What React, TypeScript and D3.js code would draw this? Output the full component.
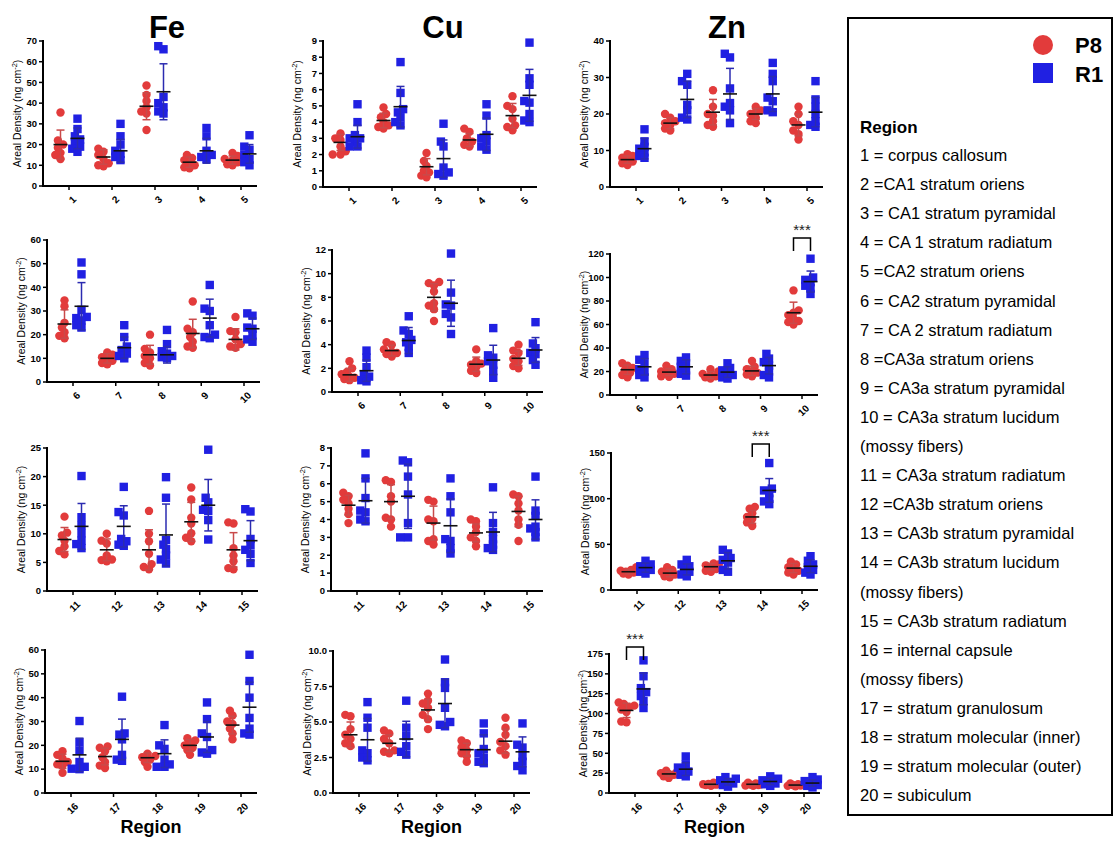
import * as d3 from 'd3';

const FONT = '"Liberation Sans", Arial, Helvetica, sans-serif';
const RED = '#e23b3b';
const BLUE = '#2020e2';
const RED_BAR = '#c94a4a';
const BLUE_BAR = '#2b2bb0';

const elements = ['Fe', 'Cu', 'Zn'];
const regionRows = [
  ['1', '2', '3', '4', '5'],
  ['6', '7', '8', '9', '10'],
  ['11', '12', '13', '14', '15'],
  ['16', '17', '18', '19', '20'],
];

// y axis extents per row
const feYMax = [70, 60, 25, 60];
const feYStep = [10, 10, 5, 10];
const cuYMax = [9, 12, 8, 10];
const cuYStep = [1, 2, 1, 2.5];
const znYMax = [40, 120, 150, 175];
const znYStep = [10, 20, 50, 25];
const znSig = [null, '10', '14', '16'];

// ---- Fe ----
const fe1_p8 = [[35.5, 22, 20, 18.5, 16, 15, 13], [18, 16.5, 15, 13, 11, 9.5, 10], [48.5, 44, 41, 38, 36, 35, 27], [15, 13.5, 12.5, 11, 10, 9, 8.5], [16, 14.5, 13, 12.5, 11.5, 10.5, 10]];
const fe1_p8_mean = [20, 14, 38.5, 11.5, 12.5];
const fe1_p8_sd = [7, 3.5, 6.5, 2.5, 2];
const fe1_r1 = [[32.5, 27.5, 24, 22.5, 21, 18, 16.5, 19], [30, 24, 20, 17, 15.5, 14, 12.5], [66, 67.5, 43, 40, 38, 36, 35], [28, 24, 17, 15, 14, 13], [24.5, 19, 17.5, 15, 13, 11.5, 10]];
const fe1_r1_mean = [23, 17, 45.5, 17, 15.5];
const fe1_r1_sd = [5, 5.5, 13.5, 6, 4.5];

const fe2_p8 = [[34.5, 32, 25, 23, 21, 19.5, 18.5], [12.5, 11.5, 10.5, 10, 9, 8, 7.5], [20, 14, 12.5, 11, 10, 8, 7], [34, 22.5, 21, 19, 17, 15, 14.5], [27.5, 21.5, 21, 18, 16, 14.5, 15]];
const fe2_p8_mean = [24.5, 10, 11.5, 20.5, 18];
const fe2_p8_sd = [6, 2, 4, 6, 4.5];
const fe2_r1 = [[50.5, 45.5, 30.5, 27.5, 27, 26, 24, 23], [24, 19, 15, 13.5, 12, 11, 10], [22, 16, 13, 12, 11, 10.5, 10], [41, 31, 30, 24, 20, 19, 18.5], [29, 28, 23, 22.5, 20, 18, 17]];
const fe2_r1_mean = [32, 14.5, 11.5, 27, 22.5];
const fe2_r1_sd = [10, 4.5, 3.5, 8, 4.5];

const fe3_p8 = [[13, 10.2, 9.7, 8.8, 7.8, 7, 6.4], [10, 8.8, 8.3, 6.2, 5.4, 5.2, 5.5], [14, 10, 8.7, 6.5, 4.7, 4.2, 3.8], [18.1, 16, 12.8, 11.8, 10.1, 9.3, 8.7], [12, 11.8, 7.5, 6.2, 5.2, 4, 3.8]];
const fe3_p8_mean = [9, 7.2, 7.2, 12.1, 7.2];
const fe3_p8_sd = [2.1, 1.9, 3.5, 3.4, 3];
const fe3_r1 = [[20.1, 12.9, 11.5, 10.1, 8.8, 8.2, 7.5], [18.2, 13.8, 13.2, 9.1, 8.7, 8.1, 7.9], [19.9, 16.3, 8.9, 8.1, 7.3, 6.2, 5.5, 4.8], [24.7, 16.3, 15.5, 14.2, 14, 12.4, 9], [14.3, 13.9, 9.1, 8, 7.2, 6.5, 4.9]];
const fe3_r1_mean = [11.3, 11.3, 9.8, 15, 8.8];
const fe3_r1_sd = [4, 3.6, 5.4, 4.5, 3.5];

const fe4_p8 = [[17.5, 16, 14.5, 13, 12, 11.5, 8.5], [19.5, 19, 17.5, 15, 13, 11.5, 10.5], [16.5, 15.5, 15, 14, 13, 11], [23, 22, 21, 20, 19, 18, 16], [34.5, 32.5, 30, 29, 27, 25, 22.5]];
const fe4_p8_mean = [13.3, 15.3, 14.8, 20, 28.5];
const fe4_p8_sd = [3, 3.5, 2, 2.5, 3.7];
const fe4_r1 = [[30.2, 21.2, 17.8, 13, 11, 10, 10.2], [40.4, 25, 24.5, 22.5, 16, 14, 13.5], [28.5, 20, 18.5, 14, 12, 11, 11], [38, 31, 25, 23.5, 18, 17, 16.5], [58, 47, 40, 31.5, 27, 25, 24.5]];
const fe4_r1_mean = [16, 22.5, 16.5, 23.5, 36];
const fe4_r1_sd = [7, 8.5, 5.8, 6.5, 10.5];

// ---- Cu ----
const cu1_p8 = [[3.3, 3, 2.9, 2.5, 2.2, 2, 2], [4.9, 4.5, 4.3, 4, 3.8, 3.6, 3.7], [2.1, 1.6, 1.3, 1, 0.9, 0.7, 0.6], [3.6, 3.4, 3, 2.8, 2.6, 2.5], [5.6, 5, 4.8, 4.2, 3.8, 3.5, 3.7]];
const cu1_p8_mean = [2.75, 4.1, 1.25, 2.9, 4.4];
const cu1_p8_sd = [0.5, 0.45, 0.5, 0.4, 0.75];
const cu1_r1 = [[5.1, 4, 3.2, 3, 2.8, 2.5, 2.5, 3], [7.7, 5.8, 4.8, 4.6, 4.3, 4, 3.8], [3.9, 2.8, 2.5, 1.2, 0.9, 0.8, 0.7], [5.1, 4.4, 3.2, 3, 2.8, 2.5, 2.3], [8.9, 6.7, 6.3, 5.3, 5.2, 4.5, 4.1, 4]];
const cu1_r1_mean = [3.1, 4.95, 1.75, 3.25, 5.65];
const cu1_r1_sd = [0.7, 1.25, 1.15, 1, 1.6];

const cu2_p8 = [[2.6, 2, 1.7, 1.5, 1.3, 1.1, 1, 1.2], [4.2, 4, 3.6, 3.4, 3.2, 3, 3.3], [9.3, 9.2, 9, 8.5, 7.5, 7, 6, 7.3], [3.6, 2.6, 2.4, 2.3, 2.1, 1.8, 1.6], [4, 3.5, 3.3, 2.8, 2.6, 2.2, 2]];
const cu2_p8_mean = [1.45, 3.5, 8, 2.35, 2.85];
const cu2_p8_sd = [0.55, 0.45, 1.15, 0.6, 0.6];
const cu2_r1 = [[3.5, 2.9, 2.1, 1.5, 1.3, 1, 0.9], [6.4, 5.2, 4.9, 4.4, 4.2, 3.8, 3.3], [11.7, 8.4, 7.4, 7.3, 6.6, 6.3, 4.9], [5.4, 3.1, 2.9, 2.6, 2.3, 1.8, 1.2], [5.9, 4.1, 3.7, 3.3, 3.2, 2.7, 2.3]];
const cu2_r1_mean = [1.8, 4.35, 7.5, 2.7, 3.55];
const cu2_r1_sd = [0.9, 1.1, 1.95, 1.25, 1.05];

const cu3_p8 = [[5.5, 5.3, 5.1, 4.9, 4.6, 4.3, 3.8], [6.2, 6.1, 5.3, 5, 4.1, 4, 3.6], [5.1, 5, 4, 3.9, 2.9, 2.8, 2.6], [4, 3.9, 3.6, 3.3, 3, 2.8, 2.5], [5.4, 5.3, 4.9, 4.5, 4, 3.7, 2.8]];
const cu3_p8_mean = [4.8, 5, 3.8, 3.25, 4.45];
const cu3_p8_sd = [0.55, 0.95, 0.95, 0.5, 0.85];
const cu3_r1 = [[7.7, 6.3, 5.2, 4.5, 4.4, 4, 3.9], [7.3, 7.2, 6.4, 5.4, 3.8, 3, 3], [6.3, 5.3, 4.4, 2.9, 2.8, 2.4, 2.1], [5.8, 3.8, 3.3, 2.9, 2.6, 2.4, 2.3], [6.4, 4.5, 4.2, 3.6, 3.5, 3.3, 3]];
const cu3_r1_mean = [5.05, 5.3, 3.65, 3.3, 4];
const cu3_r1_sd = [1.25, 1.8, 1.5, 1.1, 1.1];

const cu4_p8 = [[5.5, 5.4, 4.5, 4.1, 3.8, 3.5, 3.3], [4.4, 4.2, 3.8, 3.5, 3, 2.9, 2.8], [7, 6.5, 6.3, 6, 5.5, 5.2, 4.5], [3.7, 3.5, 3.2, 3, 2.8, 2.6, 2.2], [5.3, 4.6, 4.1, 3.6, 3.3, 3, 2.7]];
const cu4_p8_mean = [4.1, 3.5, 5.85, 3.05, 3.65];
const cu4_p8_sd = [0.9, 0.6, 0.75, 0.45, 0.85];
const cu4_r1 = [[6.4, 5.3, 4.6, 3, 2.8, 2.5, 2.3], [6.5, 4.6, 4, 3.3, 2.9, 2.7], [9.4, 7.8, 7.4, 6, 5, 4.8, 4.7], [4.9, 4.2, 3.1, 2.8, 2.5, 2.2, 2.1], [4.9, 3.4, 3.2, 2.6, 2.2, 1.9, 1.6]];
const cu4_r1_mean = [3.75, 3.8, 6.3, 3.05, 2.9];
const cu4_r1_sd = [1.5, 1.25, 1.7, 1.05, 1.05];

// ---- Zn ----
const zn1_p8 = [[9, 8.5, 8, 7.5, 7, 6.5, 6], [20, 19, 18, 17.5, 17, 16, 15.5], [26.5, 22, 20, 19.5, 18, 17, 16.5], [22, 21, 20.5, 20, 19, 18, 17.5], [22, 20, 18, 17, 15.5, 14.5, 13]];
const zn1_p8_mean = [7.5, 17.5, 20.5, 20, 17];
const zn1_p8_sd = [1, 1.5, 3.5, 1.5, 3];
const zn1_r1 = [[15.8, 12.5, 11, 10.5, 9.5, 8.5, 8], [31, 29, 28, 22.5, 21, 19, 18.5], [36.5, 35.5, 27, 23, 22, 21, 17.5], [34, 31, 29, 24.5, 23.5, 21, 20.5], [29, 24, 22, 20, 18, 17, 16.5]];
const zn1_r1_mean = [10.5, 24, 25.5, 25.5, 20.5];
const zn1_r1_sd = [2.8, 5, 7, 4.8, 4];

const zn2_p8 = [[27, 25, 23, 21, 19, 17, 15], [25, 22, 20, 19, 18, 16, 15.5], [22, 20, 18, 17, 16, 15, 14], [29, 24, 22, 20, 19, 17.5, 16], [89, 72, 70, 68, 65, 62, 60, 63]];
const zn2_p8_mean = [21.5, 19.5, 17, 20.5, 70];
const zn2_p8_sd = [4, 3, 3, 4, 9];
const zn2_r1 = [[34, 30, 27, 22, 20, 17, 15], [32, 29, 27, 24, 21, 18, 16.5], [27, 23, 21, 19, 17, 15, 14], [35, 31, 28, 25, 20, 17, 15], [116, 100, 98, 96, 93, 91, 86]];
const zn2_r1_mean = [24, 24, 19.5, 25, 96.5];
const zn2_r1_sd = [7, 6, 4.5, 7, 9];

const zn3_p8 = [[25, 22, 21, 20, 19, 18, 17], [25, 22, 20, 18, 17, 15, 14], [29, 28, 27, 25, 23, 21, 20], [91, 89, 84, 80, 78, 74, 70], [31, 28, 25, 23, 21, 19, 17]];
const zn3_p8_mean = [20, 18.5, 25.5, 80, 24];
const zn3_p8_sd = [2.5, 4, 3.5, 7, 5];
const zn3_r1 = [[32, 28, 26, 24, 22, 20, 18], [33, 28, 26, 23, 20, 17, 15], [44, 40, 35, 33, 30, 22, 20], [139, 111, 109, 106, 100, 97, 94], [37, 32, 28, 25, 22, 19, 17]];
const zn3_r1_mean = [24.5, 22.5, 32, 109, 26];
const zn3_r1_sd = [5, 6, 9, 13, 7];

const zn4_p8 = [[114, 112, 110, 108, 105, 102, 90, 89], [28, 26, 25, 24, 23, 21, 19], [13, 12, 11.5, 11, 10.5, 10, 9], [13, 12, 11, 10.5, 10, 9.5, 9], [12, 11, 10.5, 10, 9.5, 9, 8.5]];
const zn4_p8_mean = [104, 24, 11, 11, 10];
const zn4_p8_sd = [9, 3, 1.5, 1.5, 1.2];
const zn4_r1 = [[167, 147, 132, 127, 122, 116, 107], [46, 36, 32, 29, 27, 23, 21], [20, 18, 16, 14, 12, 10, 8], [21, 18, 16, 14, 12, 11, 9], [20, 17, 15, 12, 10, 9, 7]];
const zn4_r1_mean = [131, 30, 14, 14.5, 12.5];
const zn4_r1_sd = [20, 8, 4, 4, 4];

const legendLines = [
  '1 = corpus callosum',
  '2 =CA1 stratum oriens',
  '3 = CA1 stratum pyramidal',
  '4 = CA 1 stratum radiatum',
  '5 =CA2 stratum oriens',
  '6 = CA2 stratum pyramidal',
  '7 = CA 2 stratum radiatum',
  '8 =CA3a stratum oriens',
  '9 = CA3a stratum pyramidal',
  '10 = CA3a stratum lucidum',
  '(mossy fibers)',
  '11 = CA3a stratum radiatum',
  '12 =CA3b stratum oriens',
  '13 = CA3b stratum pyramidal',
  '14 = CA3b stratum lucidum',
  '(mossy fibers)',
  '15 = CA3b stratum radiatum',
  '16 = internal capsule',
  '(mossy fibers)',
  '17 = stratum granulosum',
  '18 = stratum molecular (inner)',
  '19 = stratum molecular (outer)',
  '20 = subiculum',
];

// panel frames [left, top, bottom, right], per column then row
const frames = [
  [[43, 41, 186, 257], [47, 240, 382, 260], [47, 448, 591, 258], [45, 650, 793, 257]],
  [[323, 41, 187, 537], [332, 250, 392, 543], [331, 448, 591, 543], [333, 651, 793, 530]],
  [[610, 41, 187, 823], [610, 254, 395, 818], [611, 453, 590, 818], [609, 654, 793, 820]],
];
const bracketGap = [0, 16, 9, 7];
const titleX = [167, 443, 727];

// points sorted by value get nudged sideways so they don't pile up
function swarm(values: number[], y: (v: number) => number, r: number) {
  const order = d3.range(values.length).sort((a, b) => values[a] - values[b]);
  const placed: { x: number; y: number }[] = [];
  const xs: number[] = new Array(values.length).fill(0);
  const cands = [0];
  for (let k = 1; k <= 3; k++) cands.push(-k * 2.6, k * 2.6);
  for (const i of order) {
    const py = y(values[i]);
    let pick = 0;
    let bestD = -1;
    for (const c of cands) {
      const d = d3.min(placed, (p) => Math.hypot(p.x - c, p.y - py)) ?? Infinity;
      if (d >= r * 1.25) {
        pick = c;
        bestD = Infinity;
        break;
      }
      if (d > bestD) {
        bestD = d;
        pick = c;
      }
    }
    xs[i] = pick;
    placed.push({ x: pick, y: py });
  }
  return xs;
}

function Group({ cx, values, mean, sd, y, kind }: any) {
  const r = 4.2;
  const xs = swarm(values, y, r);
  const color = kind === 'p8' ? RED : BLUE;
  const bar = kind === 'p8' ? RED_BAR : BLUE_BAR;
  return (
    <g>
      {values.map((v: number, i: number) =>
        kind === 'p8' ? (
          <circle key={i} cx={cx + xs[i]} cy={y(v)} r={r} fill={color} />
        ) : (
          <rect key={i} x={cx + xs[i] - r} y={y(v) - r} width={r * 2} height={r * 2} fill={color} />
        )
      )}
      <line x1={cx} x2={cx} y1={y(mean - sd)} y2={y(mean + sd)} stroke={bar} strokeWidth={1.5} />
      <line x1={cx - 4} x2={cx + 4} y1={y(mean + sd)} y2={y(mean + sd)} stroke={bar} strokeWidth={1.5} />
      <line x1={cx - 4} x2={cx + 4} y1={y(mean - sd)} y2={y(mean - sd)} stroke={bar} strokeWidth={1.5} />
      <line x1={cx - 7} x2={cx + 7} y1={y(mean)} y2={y(mean)} stroke="#111" strokeWidth={1.6} />
    </g>
  );
}

function Panel({ frame, yMax, yStep, regions, p8, p8Mean, p8Sd, r1, r1Mean, r1Sd, sig, gap, showRegion }: any) {
  const [left, top, bottom, right] = frame;
  const y = d3.scaleLinear().domain([0, yMax]).range([bottom, top]);
  const x = d3.scalePoint<string>().domain(regions).range([left + 26, right - 16]);
  const ticks = d3.range(0, yMax + yStep / 2, yStep);
  const fmt = Number.isInteger(yStep) ? (t: number) => `${t}` : (t: number) => t.toFixed(1);
  const off = 8.5;
  const midY = (top + bottom) / 2;
  return (
    <g fontFamily={FONT}>
      {regions.map((reg: string, gi: number) => (
        <g key={reg}>
          <Group cx={(x(reg) as number) - off} values={p8[gi]} mean={p8Mean[gi]} sd={p8Sd[gi]} y={y} kind="p8" />
          <Group cx={(x(reg) as number) + off} values={r1[gi]} mean={r1Mean[gi]} sd={r1Sd[gi]} y={y} kind="r1" />
        </g>
      ))}
      <line x1={left} x2={left} y1={top - 1} y2={bottom} stroke="#000" strokeWidth={2} />
      <line x1={left - 1} x2={right} y1={bottom} y2={bottom} stroke="#000" strokeWidth={2} />
      {ticks.map((t: number) => (
        <g key={t}>
          <line x1={left - 4} x2={left} y1={y(t)} y2={y(t)} stroke="#000" strokeWidth={1.5} />
          <text x={left - 6} y={y(t)} dy="0.35em" textAnchor="end" fontSize={9.5} fontWeight="bold">
            {fmt(t)}
          </text>
        </g>
      ))}
      {regions.map((reg: string) => (
        <g key={reg}>
          <line x1={x(reg)} x2={x(reg)} y1={bottom} y2={bottom + 4} stroke="#000" strokeWidth={1.5} />
          <text
            transform={`translate(${(x(reg) as number) + 3},${bottom + 9}) rotate(-45)`}
            textAnchor="end"
            dy="0.7em"
            fontSize={10}
            fontWeight="bold"
          >
            {reg}
          </text>
        </g>
      ))}
      <text transform={`translate(${left - 22},${midY}) rotate(-90)`} textAnchor="middle" fontSize={10.5}>
        Areal Density (ng cm
        <tspan dy={-4} fontSize={7.5}>-2</tspan>
        <tspan dy={4}>)</tspan>
      </text>
      {sig && (
        <g>
          <path
            d={`M${(x(sig) as number) - off},${top - gap + 13} V${top - gap} H${(x(sig) as number) + off} V${top - gap + 13}`}
            fill="none"
            stroke="#000"
            strokeWidth={1.5}
          />
          <text x={x(sig)} y={top - gap - 3} textAnchor="middle" fontSize={15} fill="#222">
            ***
          </text>
        </g>
      )}
      {showRegion && (
        <text x={(left + right) / 2} y={833} textAnchor="middle" fontSize={18} fontWeight="bold">
          Region
        </text>
      )}
    </g>
  );
}

const feData = [
  [fe1_p8, fe1_p8_mean, fe1_p8_sd, fe1_r1, fe1_r1_mean, fe1_r1_sd],
  [fe2_p8, fe2_p8_mean, fe2_p8_sd, fe2_r1, fe2_r1_mean, fe2_r1_sd],
  [fe3_p8, fe3_p8_mean, fe3_p8_sd, fe3_r1, fe3_r1_mean, fe3_r1_sd],
  [fe4_p8, fe4_p8_mean, fe4_p8_sd, fe4_r1, fe4_r1_mean, fe4_r1_sd],
];
const cuData = [
  [cu1_p8, cu1_p8_mean, cu1_p8_sd, cu1_r1, cu1_r1_mean, cu1_r1_sd],
  [cu2_p8, cu2_p8_mean, cu2_p8_sd, cu2_r1, cu2_r1_mean, cu2_r1_sd],
  [cu3_p8, cu3_p8_mean, cu3_p8_sd, cu3_r1, cu3_r1_mean, cu3_r1_sd],
  [cu4_p8, cu4_p8_mean, cu4_p8_sd, cu4_r1, cu4_r1_mean, cu4_r1_sd],
];
const znData = [
  [zn1_p8, zn1_p8_mean, zn1_p8_sd, zn1_r1, zn1_r1_mean, zn1_r1_sd],
  [zn2_p8, zn2_p8_mean, zn2_p8_sd, zn2_r1, zn2_r1_mean, zn2_r1_sd],
  [zn3_p8, zn3_p8_mean, zn3_p8_sd, zn3_r1, zn3_r1_mean, zn3_r1_sd],
  [zn4_p8, zn4_p8_mean, zn4_p8_sd, zn4_r1, zn4_r1_mean, zn4_r1_sd],
];
const allData = [feData, cuData, znData];
const yMaxes = [feYMax, cuYMax, znYMax];
const ySteps = [feYStep, cuYStep, znYStep];

export default function App() {
  return (
    <svg
      width={1120}
      height={842}
      viewBox="0 0 1120 842"
      style={{ position: 'absolute', left: 0, top: 0, background: '#fff', display: 'block' }}
      fontFamily={FONT}
    >
      <rect width={1120} height={842} fill="#fff" />
      {elements.map((el, c) => (
        <text key={el} x={titleX[c]} y={38} textAnchor="middle" fontSize={31} fontWeight="bold">
          {el}
        </text>
      ))}
      {elements.map((el, c) =>
        regionRows.map((regions, r) => {
          const [p8, p8Mean, p8Sd, r1, r1Mean, r1Sd] = allData[c][r];
          return (
            <Panel
              key={`${el}-${r}`}
              frame={frames[c][r]}
              yMax={yMaxes[c][r]}
              yStep={ySteps[c][r]}
              regions={regions}
              p8={p8}
              p8Mean={p8Mean}
              p8Sd={p8Sd}
              r1={r1}
              r1Mean={r1Mean}
              r1Sd={r1Sd}
              sig={el === 'Zn' ? znSig[r] : null}
              gap={bracketGap[r]}
              showRegion={r === 3}
            />
          );
        })
      )}
      <g>
        <rect x={848} y={18} width={264} height={797} fill="none" stroke="#000" strokeWidth={2} />
        <circle cx={1043} cy={45} r={10} fill={RED} />
        <rect x={1033} y={63} width={20} height={20} fill={BLUE} />
        <text x={1075} y={53} fontSize={22} fontWeight="bold">P8</text>
        <text x={1075} y={82} fontSize={22} fontWeight="bold">R1</text>
        <text x={860} y={133} fontSize={17} fontWeight="bold">Region</text>
        {legendLines.map((line, i) => (
          <text key={i} x={860} y={161 + i * 29.1} fontSize={16.5}>
            {line}
          </text>
        ))}
      </g>
    </svg>
  );
}
